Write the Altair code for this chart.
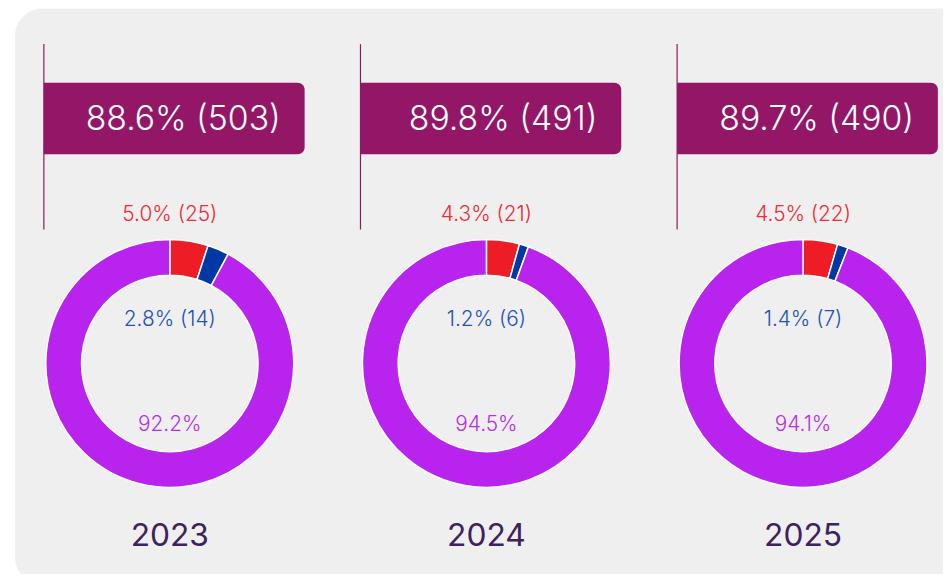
import math
import altair as alt
import pandas as pd

years = ["2023", "2024", "2025"]
header_pct = [88.6, 89.8, 89.7]
header_n = [503, 491, 490]
red_pct = [5.0, 4.3, 4.5]
red_n = [25, 21, 22]
blue_pct = [2.8, 1.2, 1.4]
blue_n = [14, 6, 7]
purple_pct = [92.2, 94.5, 94.1]

cats = ["red", "blue", "purple"]
cat_colors = ["#ee1c25", "#0039a6", "#b923ee"]

rows = []
for i, y in enumerate(years):
    for order, (c, v) in enumerate(zip(cats, [red_pct[i], blue_pct[i], purple_pct[i]])):
        rows.append({"year": y, "cat": c, "order": order, "pct": v})
donut_df = pd.DataFrame(rows)

lab_df = pd.DataFrame({
    "year": years,
    "header": [f"{p:.1f}% ({n})" for p, n in zip(header_pct, header_n)],
    "red": [f"{p:.1f}% ({n})" for p, n in zip(red_pct, red_n)],
    "blue": [f"{p:.1f}% ({n})" for p, n in zip(blue_pct, blue_n)],
    "purple": [f"{p:.1f}%" for p in purple_pct],
})

FONT = "Inter"
W, H = 943, 566

xscale = alt.Scale(domain=years, range=[3.5, 961.5], paddingInner=0, paddingOuter=0)
X = alt.X("year:N", scale=xscale, axis=None)

panel = alt.Chart(pd.DataFrame({"k": [0]})).mark_rect(
    color="#efefef", cornerRadius=28
).encode(x=alt.value(7), x2=alt.value(975), y=alt.value(-2), y2=alt.value(579))

rule = alt.Chart(lab_df).mark_rule(color="#8b1a66", strokeWidth=1.2, xOffset=-127).encode(
    x=X, y=alt.value(34), y2=alt.value(221)
)

header_box = alt.Chart(lab_df).mark_bar(
    width=263, xOffset=4.5, color="#931766",
    cornerRadiusTopRight=7, cornerRadiusBottomRight=7,
).encode(x=X, y=alt.value(73), y2=alt.value(145))

header_text = alt.Chart(lab_df).mark_text(
    align="right", baseline="middle", xOffset=112, fontSize=34, fontWeight=300,
    color="white", font=FONT
).encode(x=X, y=alt.value(111), text="header:N")

donut = alt.Chart(donut_df).transform_window(
    cum="sum(pct)", groupby=["year"], sort=[alt.SortField("order")], frame=[None, 0]
).transform_calculate(start="datum.cum - datum.pct").mark_arc(
    radius=125, radius2=89, stroke="white", strokeWidth=1.5
).encode(
    x=X,
    y=alt.value(356),
    theta=alt.Theta("start:Q", scale=alt.Scale(domain=[0, 100], range=[0, 2 * math.pi])),
    theta2="cum:Q",
    color=alt.Color("cat:N", scale=alt.Scale(domain=cats, range=cat_colors), legend=None),
)

def label(field, ypos, size, color, weight=300):
    return alt.Chart(lab_df).mark_text(
        align="center", baseline="middle", fontSize=size, color=color, font=FONT,
        fontWeight=weight,
    ).encode(x=X, y=alt.value(ypos), text=f"{field}:N")

red_text = label("red", 206, 21, "#ee2b36")
blue_text = label("blue", 312, 21, "#2352b5")
purple_text = label("purple", 418, 21, "#b82ee6")
year_text = label("year", 530, 32, "#3e2160", 400)

chart = alt.layer(
    panel, rule, header_box, header_text, donut, red_text, blue_text, purple_text, year_text
).properties(width=W, height=H, padding=0, autosize="none", background="white").configure_view(
    strokeWidth=0
)

chart.save("out.html", embed_options={"renderer": "svg", "actions": False})
